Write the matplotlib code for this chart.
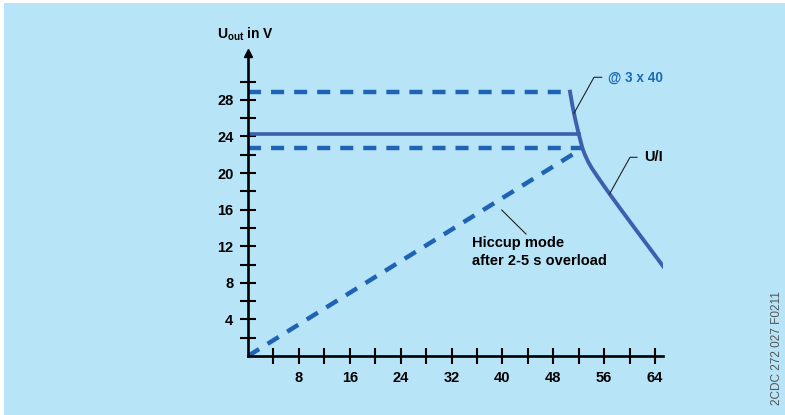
import matplotlib
matplotlib.use("Agg")
import matplotlib.pyplot as plt
from matplotlib.patches import Rectangle

plt.rcParams["font.family"] = ["Liberation Sans", "DejaVu Sans"]
plt.rcParams["mathtext.fontset"] = "custom"
plt.rcParams["mathtext.rm"] = "Liberation Sans"
plt.rcParams["mathtext.bf"] = "Liberation Sans:bold"
plt.rcParams["lines.scale_dashes"] = False

# ---------------------------------------------------------------------------
# dados
U_MAX = 28.9        # limite superior (tracejado)
U_NOM = 24.3        # tensão nominal (sólido)
U_MIN = 22.7        # limite inferior (tracejado)

# curva U/I
curve_i = [50.63, 50.99, 51.42, 51.97, 52.59, 52.99, 53.46, 54.09, 54.87,
           55.82, 56.92, 58.49, 60.85, 63.05, 65.30]
curve_u = [28.89, 27.43, 25.99, 24.34, 22.70, 21.97, 21.26, 20.49, 19.69,
           18.74, 17.65, 16.15, 13.93, 11.88, 9.78]

# modo hiccup
hiccup_i = [0, 52.59]
hiccup_u = [0, 22.7]

x_major = [8, 16, 24, 32, 40, 48, 56, 64]
x_minor = [4, 12, 20, 28, 36, 44, 52, 60]
y_major = [4, 8, 12, 16, 20, 24, 28]
y_minor = [2, 6, 10, 14, 18, 22, 26, 30]

# ---------------------------------------------------------------------------
BG = "#b8e4f8"
C_DASH = "#1f63b5"
C_SOLID = "#3d5fae"
C_LABEL = "#1b6cb8"
FS = 10.5

W, H = 785, 415
fig = plt.figure(figsize=(W / 100, H / 100), dpi=100)
fig.patch.set_facecolor("white")
fig.add_artist(Rectangle((4 / W, 0), 1, 1 - 3 / H, transform=fig.transFigure,
                         facecolor=BG, edgecolor="none", zorder=-10))

x0, x1 = 248, 663.3
y0, ytop = 356, 40
ax = fig.add_axes([x0 / W, (H - y0) / H, (x1 - x0) / W, (y0 - ytop) / H])
ax.set_facecolor("none")
ax.set_xlim(0, 65.3)
ax.set_ylim(0, (y0 - ytop) / 9.15)

for s in ["top", "right"]:
    ax.spines[s].set_visible(False)
for s in ["left", "bottom"]:
    ax.spines[s].set_linewidth(1.9)
    ax.spines[s].set_color("black")
ax.spines["left"].set_bounds(0, 33.1)
ax.plot([0], [33.15], marker="^", markersize=6, color="black", clip_on=False,
        zorder=5)

ax.set_xticks(x_major)
ax.set_xticks(x_minor, minor=True)
ax.set_yticks(y_major)
ax.set_yticks(y_minor, minor=True)
ax.set_xticklabels([str(v) for v in x_major], fontweight="bold", fontsize=FS)
ax.set_yticklabels([str(v) for v in y_major], fontweight="bold", fontsize=FS)
ax.tick_params(which="both", direction="inout", length=11, width=1.5,
               color="black")
ax.tick_params(axis="x", which="major", pad=5)
ax.tick_params(axis="y", which="major", pad=5)

# linhas
dash = dict(color=C_DASH, linewidth=3.2, dashes=(9.4, 7.2),
            dash_capstyle="butt")
ax.plot([0, curve_i[0]], [U_MAX, U_MAX], **dash)
ax.plot([0, curve_i[4]], [U_MIN, U_MIN], **dash)
ax.plot(hiccup_i, hiccup_u, **dash)
ax.plot([0, curve_i[3]], [U_NOM, U_NOM], color=C_SOLID, linewidth=2.6)
ax.plot(curve_i, curve_u, color=C_SOLID, linewidth=2.8,
        solid_joinstyle="round")

# anotações
def px(x, y):
    return (x - x0) / 6.36, (y0 - y) / 9.15

lk = dict(color="#222222", linewidth=0.8)
a, b, c = px(574, 113.3), px(594, 77.3), px(601.7, 77.3)
ax.plot([a[0], b[0], c[0]], [a[1], b[1], c[1]], **lk)
t = px(608.5, 77.3)
ax.text(t[0], t[1], "@ 3 x 40", color=C_LABEL, fontweight="bold", fontsize=9.8,
        ha="left", va="center", clip_on=True)

a, b, c = px(609.5, 194), px(630, 157.3), px(637, 157.3)
ax.plot([a[0], b[0], c[0]], [a[1], b[1], c[1]], **lk)
t = px(644, 157.3)
ax.text(t[0], t[1], "U/I", color="black", fontweight="bold", fontsize=FS,
        ha="left", va="center", clip_on=True)

a, b = px(501.7, 210), px(526, 234)
ax.plot([a[0], b[0]], [a[1], b[1]], **lk)
t = px(471.7, 236)
ax.text(t[0], t[1], "Hiccup mode\nafter 2-5 s overload", color="black",
        fontweight="bold", fontsize=FS, ha="left", va="top",
        linespacing=1.4)

fig.text(217 / W, 1 - 39 / H, r"$\mathbf{U}_{\mathbf{out}}$ in V",
         fontweight="bold", fontsize=10, ha="left", va="baseline")

fig.text(777 / W, 1 - 348 / H, "2CDC 272 027 F0211", rotation=90,
         color="#555555", fontsize=8.5, ha="center", va="center")

fig.savefig("out.png", dpi=100, facecolor=fig.get_facecolor())
